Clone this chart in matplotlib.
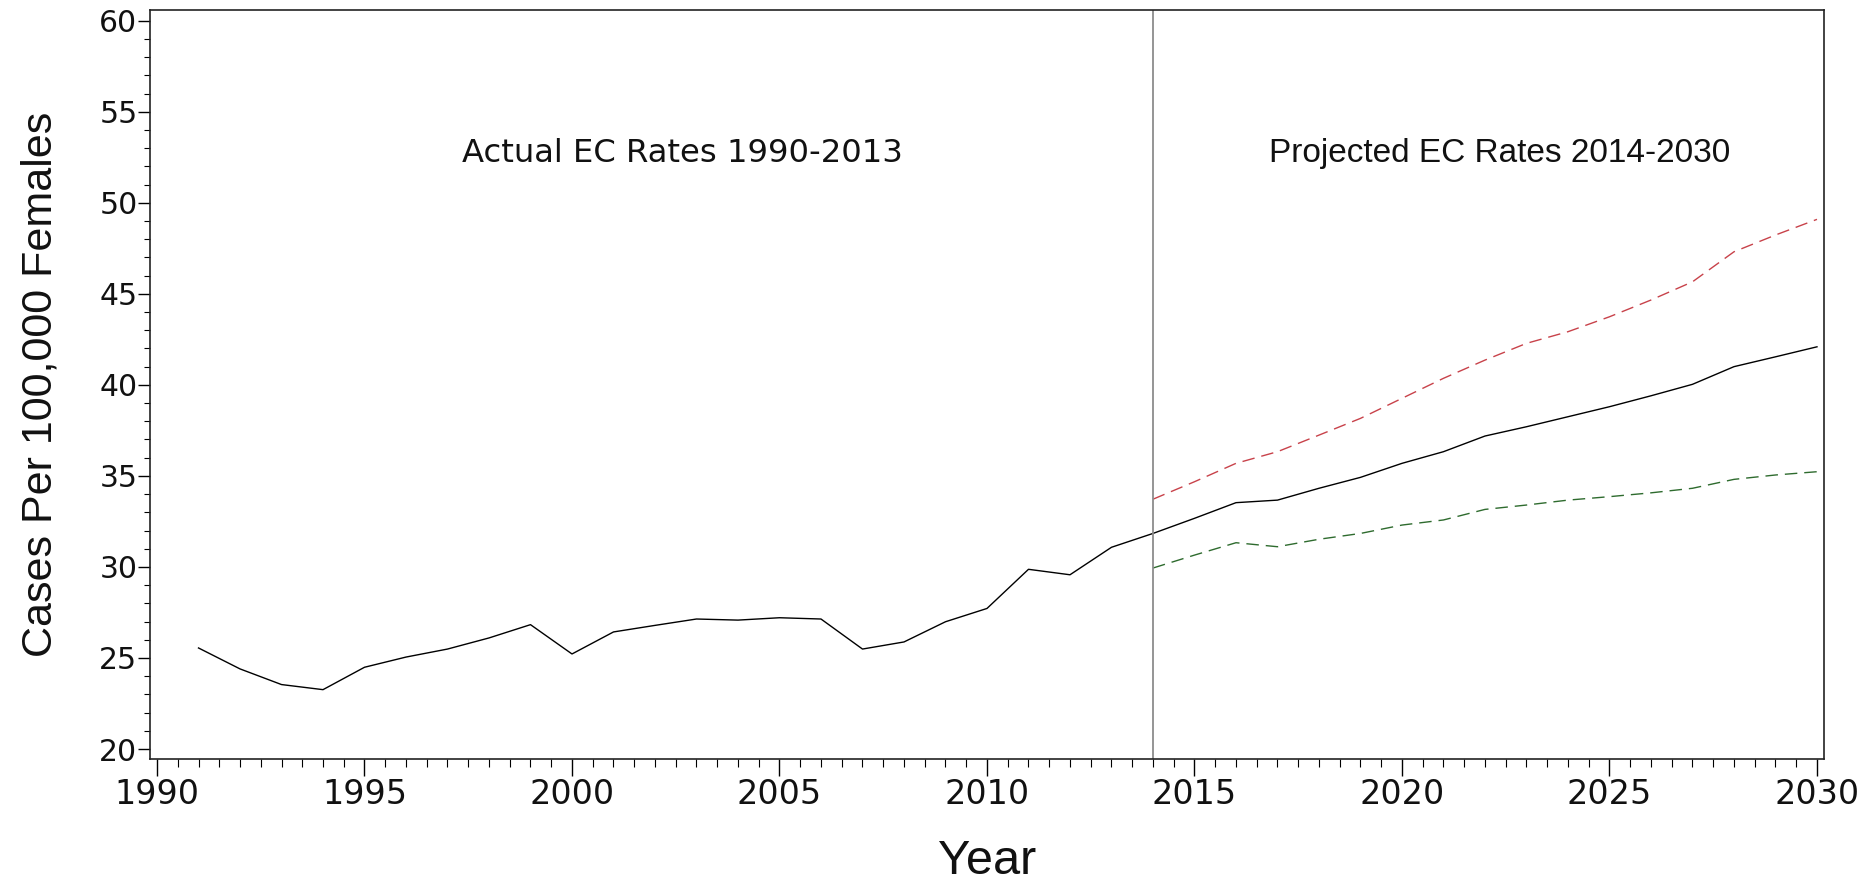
import matplotlib
matplotlib.use("Agg")
import matplotlib.pyplot as plt
from matplotlib.ticker import MultipleLocator

plt.rcParams['font.family'] = ['Liberation Sans', 'DejaVu Sans']

# Observed endometrial cancer incidence, 1991-2013, plus the 2014 join point
actual_years = list(range(1991, 2015))
actual_rates = [25.55, 24.40, 23.54, 23.26, 24.49, 25.05, 25.49, 26.10, 26.83, 25.22,
                26.43, 26.79, 27.14, 27.08, 27.21, 27.14, 25.49, 25.88, 26.99, 27.72,
                29.87, 29.57, 31.08, 31.84]

# Projections 2014-2030: central estimate with upper and lower bounds
proj_years = list(range(2014, 2031))
proj_mid = [31.84, 32.67, 33.53, 33.67, 34.32, 34.92, 35.69, 36.33, 37.19, 37.70,
            38.25, 38.80, 39.40, 40.03, 41.00, 41.54, 42.09]
proj_upper = [33.72, 34.68, 35.69, 36.33, 37.24, 38.16, 39.26, 40.36, 41.36, 42.28,
              42.92, 43.74, 44.66, 45.66, 47.31, 48.23, 49.09]
proj_lower = [29.94, 30.65, 31.33, 31.11, 31.52, 31.84, 32.30, 32.58, 33.16, 33.40,
              33.67, 33.86, 34.07, 34.32, 34.81, 35.05, 35.23]

split_year = 2014
label_actual = "Actual EC Rates 1990-2013"
label_proj = "Projected EC Rates 2014-2030"

fig = plt.figure(figsize=(18.72, 8.83), dpi=100)
ax = fig.add_axes([0.0801, 0.1404, 0.8945, 0.8483])

ax.plot(actual_years, actual_rates, color='black', lw=1.0)
ax.plot(proj_years, proj_mid, color='black', lw=1.0)
ax.plot(proj_years, proj_upper, color='#c8424a', lw=1.0, dashes=(9, 5))
ax.plot(proj_years, proj_lower, color='#2e6b2e', lw=1.0, dashes=(9, 5))
ax.axvline(split_year, color='#8c8c8c', lw=1.3)

ax.text(2002.65, 52.7, label_actual, ha='center', va='center', fontsize=23.2,
        family='DejaVu Sans', color='#111111')
ax.text(2022.36, 52.7, label_proj, ha='center', va='center', fontsize=24,
        color='#111111')

ax.set_xlim(1989.83, 2030.18)
ax.set_ylim(19.45, 60.59)
ax.xaxis.set_major_locator(MultipleLocator(5))
ax.xaxis.set_minor_locator(MultipleLocator(0.5))
ax.yaxis.set_major_locator(MultipleLocator(5))
ax.yaxis.set_minor_locator(MultipleLocator(1))

ax.tick_params(axis='x', which='major', length=12, width=1.0, labelsize=24, pad=2)
ax.tick_params(axis='x', which='minor', length=6, width=0.8)
ax.tick_params(axis='y', which='major', length=9, width=1.0, labelsize=21.5, pad=0)
ax.tick_params(axis='y', which='minor', length=4, width=0.8)
for lbl in ax.get_xticklabels() + ax.get_yticklabels():
    lbl.set_family('DejaVu Sans')
    lbl.set_color('#111111')

for s in ax.spines.values():
    s.set_linewidth(1.2)
    s.set_color('#222222')

ax.set_xlabel('Year', fontsize=35, labelpad=20, color='#111111')
ax.set_ylabel('Cases Per 100,000 Females', fontsize=31, labelpad=28, color='#111111')

fig.savefig('out.png', dpi=100)
